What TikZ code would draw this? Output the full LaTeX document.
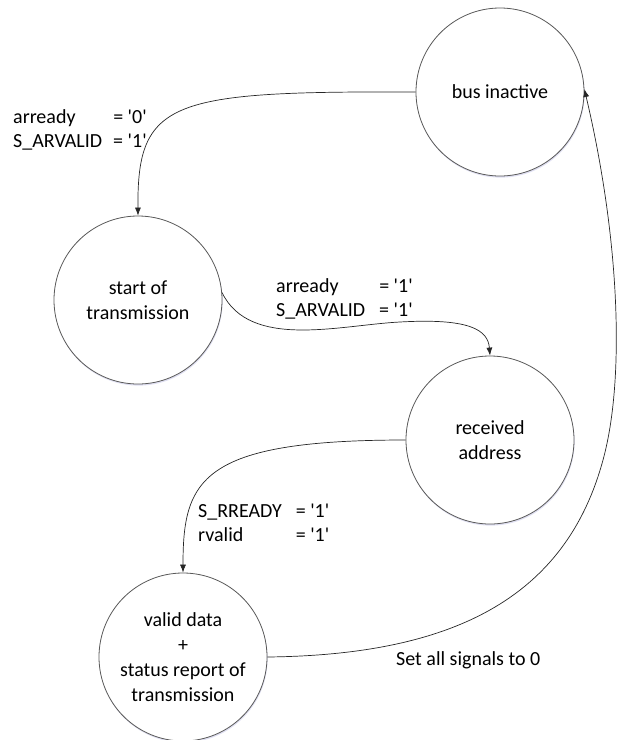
\documentclass[tikz,border=0pt]{standalone}
\usepackage{fontspec}
\setmainfont{Carlito}
\usetikzlibrary{arrows.meta,shadows}
\newcommand{\sq}[1]{\textquotesingle#1\textquotesingle}
\begin{document}
\begin{tikzpicture}[x=1pt,y=-1pt,
  state/.style={circle, draw=black!65, line width=0.8pt, fill=white, minimum size=168pt, inner sep=0pt, align=center,
    font=\fontsize{20}{25}\selectfont,
    drop shadow={shadow xshift=0.6pt, shadow yshift=-1.6pt, fill=blue!40!gray, opacity=0.18}},
  conn/.style={draw=black!85, line width=0.7pt, -{Latex[length=8pt,width=6pt]}},
  lbl/.style={anchor=base west, inner sep=0pt, font=\fontsize{20}{24}\selectfont}]
\useasboundingbox (0,0) rectangle (622,740);

\node[state] (bus) at (500,92) {bus inactive};
\node[state] (start) at (138,300) {start of\\transmission};
\node[state] (recv) at (490,440) {received\\address};
\node[state] (valid) at (183,657) {valid data\\+\\status report of\\transmission};

\draw[conn] (bus.west) .. controls (170,91) and (137,100) .. (start.north);
\draw[conn] (start.5) .. controls (250,350) and (340,325) .. (400,322) .. controls (470,318) and (488,330) .. (recv.north);
\draw[conn] (recv.west) .. controls (200,440) and (183,480) .. (valid.north);
\draw[conn] (valid.east) .. controls (450,655) and (565,600) .. (603,460) .. controls (625,380) and (620,240) .. (bus.2);

\node[lbl] (l1) at (13,123) {\begin{tabular}[t]{@{}l@{\hspace{0.55em}}l@{}}arready & = \sq{0}\\S\_ARVALID & = \sq{1}\end{tabular}};
\node[lbl] (l2) at (276,292) {\begin{tabular}[t]{@{}l@{\hspace{0.7em}}l@{}}arready & = \sq{1}\\S\_ARVALID & = \sq{1}\end{tabular}};
\node[lbl] (l3) at (198,517) {\begin{tabular}[t]{@{}l@{\hspace{0.7em}}l@{}}S\_RREADY & = \sq{1}\\rvalid & = \sq{1}\end{tabular}};
\node[lbl] (l4) at (396,665) {Set all signals to 0};
\end{tikzpicture}
\end{document}
